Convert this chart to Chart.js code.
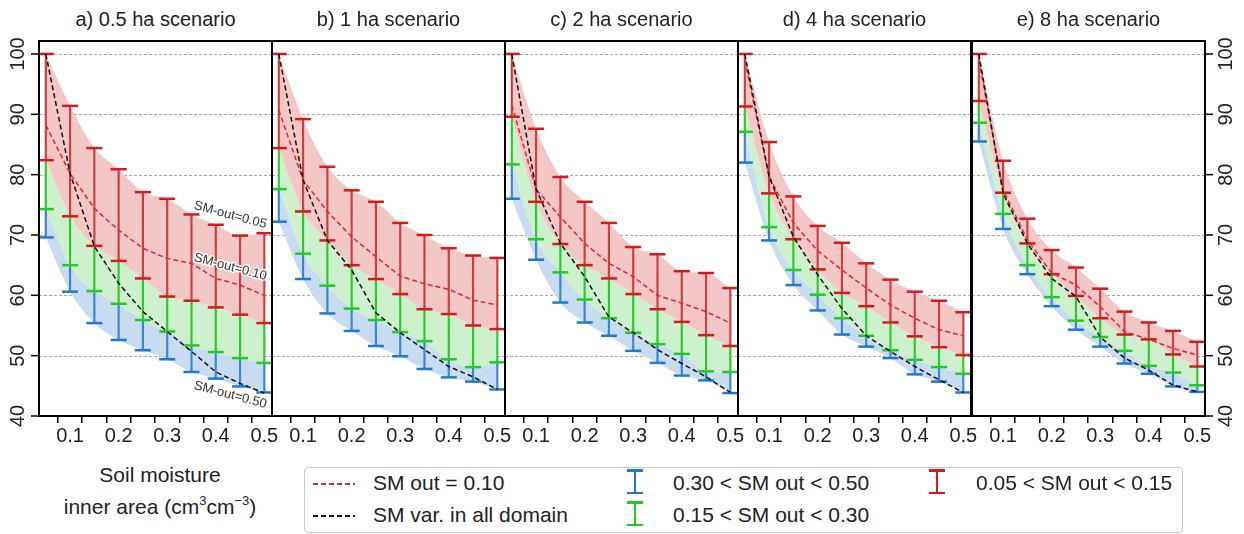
<!DOCTYPE html>
<html lang="en">
<head>
<meta charset="UTF-8">
<title>Soil moisture inner area scenarios</title>
<script src="https://cdn.jsdelivr.net/npm/chart.js"></script>
<style>
    body { margin: 0; background: #fff; font-family: 'Liberation Sans', Arial, sans-serif; color: #222; }
    #wrap { position: relative; width: 1244px; height: 534px; overflow: hidden; }
    canvas.panel { position: absolute; top: 0; }
    .title { position: absolute; top: 7px; width: 233px; text-align: center; font-size: 20px; line-height: 24px; }
    .xlabel { position: absolute; left: 40px; top: 459px; width: 240px; text-align: center; font-size: 21px; line-height: 32px; }
    .xlabel sup { font-size: 13px; line-height: 0; vertical-align: 9px; }
    .legend { position: absolute; left: 304px; top: 467px; width: 877px; height: 64px; border: 1.5px solid #c9c9c9; border-radius: 4px; }
    .lg-text { position: absolute; font-size: 21px; line-height: 24px; white-space: nowrap; }
    .lg-dash { position: absolute; width: 42px; height: 1.5px; }
    .lg-bar { position: absolute; width: 16px; height: 25px; }
    .lg-bar i { position: absolute; left: 7px; top: 0; width: 1.5px; height: 100%; }
    .lg-bar b { position: absolute; left: 0; width: 16px; height: 2.5px; }
</style>
</head>
<body>
<div id="wrap"></div>

<script>
    // x positions (soil moisture of the inner area)
    const smInner = [0.05, 0.10, 0.15, 0.20, 0.25, 0.30, 0.35, 0.40, 0.45, 0.50];
    const xTicks = [0.05, 0.10, 0.15, 0.20, 0.25, 0.30, 0.35, 0.40, 0.45, 0.50];
    const yTicks = [40, 50, 60, 70, 80, 90, 100];
    const panelTitles = ['a) 0.5 ha scenario', 'b) 1 ha scenario', 'c) 2 ha scenario', 'd) 4 ha scenario', 'e) 8 ha scenario'];

    // one row per panel (a..e)
    // SM out = 0.05 (top of the red bars)
    const redTop = [
        [100, 91.4, 84.4, 80.9, 77.1, 76.0, 73.4, 71.7, 69.9, 70.3],
        [100, 89.2, 81.3, 77.4, 75.5, 72.0, 70.0, 67.8, 66.6, 66.2],
        [100, 87.6, 79.6, 75.5, 72.0, 68.0, 66.8, 64.0, 63.7, 61.2],
        [100, 85.4, 76.4, 71.5, 68.7, 65.3, 62.6, 60.6, 59.1, 57.2],
        [100, 82.3, 72.7, 67.5, 64.6, 61.1, 57.3, 55.5, 54.1, 52.3]
    ];
    // SM out = 0.15
    const redLow = [
        [82.4, 73.1, 68.2, 65.7, 62.8, 59.8, 59.1, 58.0, 56.8, 55.4],
        [84.4, 73.9, 69.1, 65.0, 62.7, 60.2, 57.7, 56.9, 55.0, 54.4],
        [89.6, 75.5, 68.5, 65.0, 62.8, 60.2, 57.7, 55.6, 53.4, 51.6],
        [91.3, 76.9, 69.3, 64.3, 60.4, 58.2, 55.5, 53.2, 51.4, 50.1],
        [92.2, 77.0, 68.6, 63.5, 59.9, 56.2, 53.5, 52.7, 50.2, 48.2]
    ];
    // SM out = 0.30
    const greenLow = [
        [74.3, 65.0, 60.7, 58.6, 55.9, 54.0, 51.7, 50.6, 49.6, 48.8],
        [77.6, 66.9, 61.6, 57.8, 55.9, 53.9, 52.4, 49.4, 48.1, 48.9],
        [81.7, 69.3, 63.8, 59.3, 56.2, 53.8, 51.9, 50.3, 47.4, 47.3],
        [87.1, 71.3, 64.2, 60.1, 56.2, 53.3, 50.9, 49.3, 48.1, 47.0],
        [88.6, 73.5, 65.0, 59.7, 55.8, 53.1, 50.8, 48.3, 47.2, 45.1]
    ];
    // SM out = 0.50
    const blueLow = [
        [69.6, 60.6, 55.4, 52.6, 50.9, 49.4, 47.3, 46.2, 44.9, 43.9],
        [72.2, 62.7, 57.0, 54.1, 51.6, 49.9, 47.8, 46.4, 45.7, 44.4],
        [76.0, 65.9, 58.8, 55.5, 53.3, 50.8, 48.8, 46.7, 45.9, 43.8],
        [82.0, 69.1, 61.7, 57.5, 53.5, 51.5, 49.6, 46.9, 45.7, 43.9],
        [85.5, 71.0, 63.5, 58.2, 54.3, 51.5, 48.7, 47.0, 44.9, 44.0]
    ];
    // red dashed: SM out = 0.10
    const smOut010 = [
        [88.2, 80.2, 74.4, 70.8, 67.8, 66.1, 65.3, 62.8, 61.7, 60.0],
        [90.7, 79.1, 73.9, 69.7, 66.4, 63.2, 61.9, 61.0, 59.2, 58.4],
        [91.5, 77.6, 73.0, 68.6, 65.3, 63.1, 60.0, 58.7, 57.3, 55.4],
        [99.0, 79.7, 72.0, 67.4, 64.2, 61.2, 58.4, 56.2, 54.3, 53.3],
        [99.0, 77.5, 69.2, 63.7, 61.7, 58.1, 54.0, 52.7, 51.2, 50.1]
    ];
    // black dashed: SM varies in all domain
    const smAllDomain = [
        [100, 80.2, 68.1, 62.0, 57.3, 54.0, 50.7, 47.3, 45.4, 43.8],
        [100, 79.1, 69.1, 64.2, 57.1, 53.8, 51.0, 48.2, 46.5, 44.4],
        [100, 77.6, 68.6, 63.1, 56.4, 53.8, 51.0, 48.7, 46.5, 43.9],
        [100, 79.7, 69.7, 63.4, 57.8, 53.3, 50.7, 48.2, 46.0, 43.9],
        [100, 76.9, 68.6, 62.8, 59.8, 53.1, 49.6, 47.6, 45.1, 44.0]
    ];
    // curve labels in panel a
    const curveNotes = [
        { text: 'SM-out=0.05', x: 0.43, y: 73.3 },
        { text: 'SM-out=0.10', x: 0.43, y: 64.7 },
        { text: 'SM-out=0.50', x: 0.43, y: 43.5 }
    ];

    const FONT = "'Liberation Sans', Arial, sans-serif";
    const panelLeft = [39, 272, 505, 738, 972];
    const PW = 233, PAD = 40, H = 450;
    const RED = '#d7191c', GREEN = '#1fcc1f', BLUE = '#1f78d1';

    Chart.defaults.font.family = FONT;
    Chart.defaults.color = '#222';

    // frame, dashed grid, rotated y labels and curve notes
    const framePlugin = {
        id: 'frame',
        beforeDatasetsDraw(chart) {
            const { ctx, chartArea: a, scales: { y } } = chart;
            ctx.save();
            ctx.strokeStyle = '#a8a8a8';
            ctx.lineWidth = 1;
            ctx.setLineDash([3, 2]);
            yTicks.forEach(v => {
                if (v <= 40) return;
                const py = Math.round(y.getPixelForValue(v)) + 0.5;
                ctx.beginPath();
                ctx.moveTo(a.left, py);
                ctx.lineTo(a.right, py);
                ctx.stroke();
            });
            ctx.restore();
        },
        afterDraw(chart, args, opts) {
            const { ctx, chartArea: a, scales: { x, y } } = chart;
            ctx.save();
            ctx.strokeStyle = '#000';
            ctx.lineWidth = 2;
            ctx.strokeRect(a.left, a.top, a.right - a.left, a.bottom - a.top);

            const side = opts.side;
            if (side) {
                ctx.lineWidth = 1.5;
                ctx.font = '20px ' + FONT;
                ctx.fillStyle = '#222';
                ctx.textAlign = 'center';
                ctx.textBaseline = 'middle';
                yTicks.forEach(v => {
                    const py = y.getPixelForValue(v);
                    const ax = side === 'left' ? a.left : a.right;
                    const dir = side === 'left' ? -1 : 1;
                    ctx.beginPath();
                    ctx.moveTo(ax, py);
                    ctx.lineTo(ax + dir * 8, py);
                    ctx.stroke();
                    ctx.save();
                    ctx.translate(ax + dir * 21, py);
                    ctx.rotate(-Math.PI / 2);
                    ctx.fillText(String(v), 0, 0);
                    ctx.restore();
                });
            }

            if (opts.notes) {
                ctx.font = '13px ' + FONT;
                ctx.textAlign = 'center';
                ctx.textBaseline = 'middle';
                ctx.lineJoin = 'round';
                opts.notes.forEach(n => {
                    ctx.save();
                    ctx.translate(x.getPixelForValue(n.x), y.getPixelForValue(n.y));
                    ctx.rotate(15 * Math.PI / 180);
                    ctx.strokeStyle = '#fff';
                    ctx.lineWidth = 3;
                    ctx.strokeText(n.text, 0, 0);
                    ctx.fillStyle = '#333';
                    ctx.fillText(n.text, 0, 0);
                    ctx.restore();
                });
            }
            ctx.restore();
        }
    };

    const pts = arr => smInner.map((x, i) => ({ x: x, y: arr[i] }));
    const span = (lo, hi) => smInner.map((x, i) => ({ x: x, y: [lo[i], hi[i]] }));

    function band(data, color, fill) {
        return {
            type: 'line', data: data, borderWidth: 0, borderColor: 'rgba(0,0,0,0)',
            pointRadius: 0, fill: fill, backgroundColor: color,
            cubicInterpolationMode: 'monotone', order: 4
        };
    }
    function caps(data, color) {
        return {
            type: 'scatter', data: data, pointStyle: 'line', pointRadius: 8,
            pointBorderWidth: 2.5, pointBorderColor: color, borderColor: color, order: 2
        };
    }
    function bars(data, color) {
        return {
            type: 'bar', data: data, backgroundColor: color, borderWidth: 0,
            barThickness: 1.5, grouped: false, order: 3
        };
    }

    const wrap = document.getElementById('wrap');

    panelTitles.forEach((title, p) => {
        const t = document.createElement('div');
        t.className = 'title';
        t.style.left = panelLeft[p] + 'px';
        t.textContent = title;
        wrap.appendChild(t);

        const cv = document.createElement('canvas');
        cv.className = 'panel';
        cv.width = PW + 2 * PAD;
        cv.height = H;
        cv.style.left = (panelLeft[p] - PAD) + 'px';
        wrap.appendChild(cv);

        new Chart(cv, {
            type: 'line',
            data: {
                datasets: [
                    { type: 'line', data: pts(smAllDomain[p]), borderColor: '#111', borderWidth: 1.5,
                      borderDash: [5, 3], pointRadius: 0, fill: false, order: 0 },
                    { type: 'line', data: pts(smOut010[p]), borderColor: '#e3262b', borderWidth: 1.5,
                      borderDash: [5, 3], pointRadius: 0, fill: false, order: 1 },
                    caps(pts(redTop[p]).concat(pts(redLow[p])), RED),
                    caps(pts(greenLow[p]), GREEN),
                    caps(pts(blueLow[p]), BLUE),
                    bars(span(redLow[p], redTop[p]), '#c8403f'),
                    bars(span(greenLow[p], redLow[p]), '#2ec82e'),
                    bars(span(blueLow[p], greenLow[p]), '#3a86d2'),
                    band(pts(redTop[p]), '#f4c7c7', '+1'),
                    band(pts(redLow[p]), '#cdf1cd', '+1'),
                    band(pts(greenLow[p]), '#c8dcf1', '+1'),
                    band(pts(blueLow[p]), 'rgba(0,0,0,0)', false)
                ]
            },
            options: {
                responsive: false,
                animation: false,
                events: [],
                layout: { padding: { left: PAD, right: PAD, top: 41, bottom: 0 } },
                plugins: {
                    legend: { display: false },
                    tooltip: { enabled: false },
                    frame: {
                        side: p === 0 ? 'left' : (p === 4 ? 'right' : null),
                        notes: p === 0 ? curveNotes : null
                    }
                },
                scales: {
                    x: {
                        type: 'linear', min: 0.036, max: 0.5158, offset: false,
                        afterBuildTicks: s => { s.ticks = xTicks.map(v => ({ value: v })); },
                        afterFit: s => { s.height = 34; },
                        grid: { drawOnChartArea: false, drawTicks: true, tickLength: 7, color: '#000', lineWidth: 1.5 },
                        border: { display: false },
                        ticks: {
                            autoSkip: false, maxRotation: 0, minRotation: 0, padding: 1,
                            font: { size: 20 }, color: '#222',
                            callback: v => (Math.round(v * 100) % 10 === 0 ? v.toFixed(1) : '')
                        }
                    },
                    y: { type: 'linear', display: false, min: 40, max: 102.15 }
                }
            },
            plugins: [framePlugin]
        });
    });

    // x axis caption
    const xl = document.createElement('div');
    xl.className = 'xlabel';
    xl.innerHTML = 'Soil moisture<br>inner area (cm<sup>3</sup>cm<sup>\u22123</sup>)';
    wrap.appendChild(xl);

    // legend
    const lg = document.createElement('div');
    lg.className = 'legend';
    wrap.appendChild(lg);

    function addText(txt, left, cy) {
        const d = document.createElement('div');
        d.className = 'lg-text';
        d.style.left = left + 'px';
        d.style.top = (cy - 12) + 'px';
        d.textContent = txt;
        wrap.appendChild(d);
    }
    function addDash(color, left, cy) {
        const d = document.createElement('div');
        d.className = 'lg-dash';
        d.style.left = left + 'px';
        d.style.top = (cy - 1) + 'px';
        d.style.background = 'repeating-linear-gradient(90deg,' + color + ' 0 5px, transparent 5px 8px)';
        wrap.appendChild(d);
    }
    function addBar(color, cx, top) {
        const d = document.createElement('div');
        d.className = 'lg-bar';
        d.style.left = (cx - 8) + 'px';
        d.style.top = top + 'px';
        d.innerHTML = '<i style="background:' + color + '"></i>' +
            '<b style="top:0;background:' + color + '"></b>' +
            '<b style="bottom:0;background:' + color + '"></b>';
        wrap.appendChild(d);
    }

    addDash('#e3262b', 313, 484);
    addText('SM out = 0.10', 373, 483);
    addDash('#111', 313, 516);
    addText('SM var. in all domain', 373, 515);
    addBar(BLUE, 635, 469);
    addText('0.30 < SM out < 0.50', 673, 483);
    addBar(GREEN, 635, 501);
    addText('0.15 < SM out < 0.30', 673, 515);
    addBar(RED, 937, 469);
    addText('0.05 < SM out < 0.15', 976, 483);
</script>
</body>
</html>
